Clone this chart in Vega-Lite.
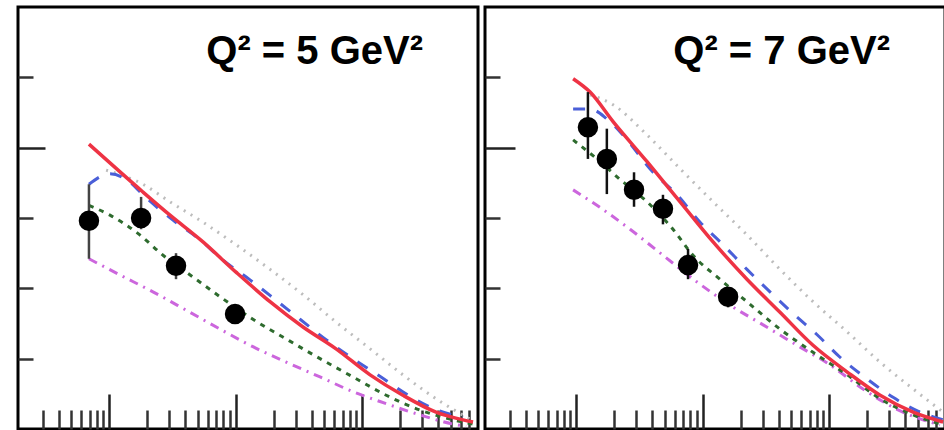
{
  "$schema": "https://vega.github.io/schema/vega-lite/v6.json",
  "padding": {"left": 15, "top": 5, "right": 9, "bottom": 3},
  "spacing": 0,
  "background": "white",
  "config": {"view": {"stroke": "black", "strokeWidth": 3}},
  "datasets": {
    "curves": [
      {"p":"L","m":"gray","x":9.47e-5,"y":3.68},{"p":"L","m":"gray","x":1.85e-4,"y":3.48},{"p":"L","m":"gray","x":3.03e-4,"y":3.23},{"p":"L","m":"gray","x":5.52e-4,"y":2.94},{"p":"L","m":"gray","x":1.007e-3,"y":2.62},{"p":"L","m":"gray","x":1.87e-3,"y":2.27},{"p":"L","m":"gray","x":3.41e-3,"y":1.91},{"p":"L","m":"gray","x":6.22e-3,"y":1.52},{"p":"L","m":"gray","x":1.156e-2,"y":1.14},{"p":"L","m":"gray","x":2.10e-2,"y":0.77},{"p":"L","m":"gray","x":3.84e-2,"y":0.43},{"p":"L","m":"gray","x":7.13e-2,"y":0.14},
      {"p":"L","m":"magenta","x":6.93e-5,"y":2.42},{"p":"L","m":"magenta","x":1.22e-4,"y":2.19},{"p":"L","m":"magenta","x":2.22e-4,"y":1.95},{"p":"L","m":"magenta","x":4.06e-4,"y":1.69},{"p":"L","m":"magenta","x":7.54e-4,"y":1.42},{"p":"L","m":"magenta","x":1.37e-3,"y":1.17},{"p":"L","m":"magenta","x":2.51e-3,"y":0.95},{"p":"L","m":"magenta","x":4.65e-3,"y":0.74},{"p":"L","m":"magenta","x":8.47e-3,"y":0.53},{"p":"L","m":"magenta","x":1.55e-2,"y":0.36},{"p":"L","m":"magenta","x":2.87e-2,"y":0.20},{"p":"L","m":"magenta","x":5.24e-2,"y":0.07},{"p":"L","m":"magenta","x":6.64e-2,"y":0.04},
      {"p":"L","m":"green","x":6.93e-5,"y":3.18},{"p":"L","m":"green","x":1.016e-4,"y":3.04},{"p":"L","m":"green","x":1.75e-4,"y":2.76},{"p":"L","m":"green","x":2.67e-4,"y":2.47},{"p":"L","m":"green","x":4.37e-4,"y":2.19},{"p":"L","m":"green","x":7.54e-4,"y":1.88},{"p":"L","m":"green","x":1.37e-3,"y":1.56},{"p":"L","m":"green","x":2.51e-3,"y":1.28},{"p":"L","m":"green","x":4.65e-3,"y":1.00},{"p":"L","m":"green","x":8.47e-3,"y":0.74},{"p":"L","m":"green","x":1.55e-2,"y":0.48},{"p":"L","m":"green","x":2.87e-2,"y":0.27},{"p":"L","m":"green","x":5.24e-2,"y":0.13},{"p":"L","m":"green","x":7.53e-2,"y":0.07},
      {"p":"L","m":"blue","x":6.93e-5,"y":3.48},{"p":"L","m":"blue","x":1.016e-4,"y":3.63},{"p":"L","m":"blue","x":1.46e-4,"y":3.51},{"p":"L","m":"blue","x":1.85e-4,"y":3.33},{"p":"L","m":"blue","x":3.20e-4,"y":2.97},{"p":"L","m":"blue","x":5.24e-4,"y":2.69},{"p":"L","m":"blue","x":7.96e-4,"y":2.40},{"p":"L","m":"blue","x":1.30e-3,"y":2.12},{"p":"L","m":"blue","x":2.09e-3,"y":1.83},{"p":"L","m":"blue","x":3.23e-3,"y":1.56},{"p":"L","m":"blue","x":5.19e-3,"y":1.27},{"p":"L","m":"blue","x":8.47e-3,"y":1.00},{"p":"L","m":"blue","x":1.41e-2,"y":0.74},{"p":"L","m":"blue","x":2.22e-2,"y":0.50},{"p":"L","m":"blue","x":3.77e-2,"y":0.28},{"p":"L","m":"blue","x":6.28e-2,"y":0.17},
      {"p":"L","m":"red","x":6.93e-5,"y":4.05},{"p":"L","m":"red","x":1.85e-4,"y":3.37},{"p":"L","m":"red","x":3.03e-4,"y":3.04},{"p":"L","m":"red","x":5.52e-4,"y":2.66},{"p":"L","m":"red","x":1.007e-3,"y":2.23},{"p":"L","m":"red","x":1.87e-3,"y":1.81},{"p":"L","m":"red","x":3.41e-3,"y":1.45},{"p":"L","m":"red","x":6.22e-3,"y":1.14},{"p":"L","m":"red","x":1.156e-2,"y":0.77},{"p":"L","m":"red","x":2.10e-2,"y":0.48},{"p":"L","m":"red","x":3.84e-2,"y":0.24},{"p":"L","m":"red","x":6.28e-2,"y":0.13},{"p":"L","m":"red","x":7.53e-2,"y":0.10},
      {"p":"R","m":"gray","x":1.29e-4,"y":4.75},{"p":"R","m":"gray","x":1.96e-4,"y":4.61},{"p":"R","m":"gray","x":3.64e-4,"y":4.18},{"p":"R","m":"gray","x":6.64e-4,"y":3.70},{"p":"R","m":"gray","x":1.21e-3,"y":3.23},{"p":"R","m":"gray","x":2.24e-3,"y":2.76},{"p":"R","m":"gray","x":4.09e-3,"y":2.27},{"p":"R","m":"gray","x":7.46e-3,"y":1.81},{"p":"R","m":"gray","x":1.39e-2,"y":1.38},{"p":"R","m":"gray","x":2.53e-2,"y":0.95},{"p":"R","m":"gray","x":4.61e-2,"y":0.57},{"p":"R","m":"gray","x":7.96e-2,"y":0.24},
      {"p":"R","m":"magenta","x":9.47e-5,"y":3.40},{"p":"R","m":"magenta","x":1.46e-4,"y":3.18},{"p":"R","m":"magenta","x":2.67e-4,"y":2.84},{"p":"R","m":"magenta","x":4.86e-4,"y":2.47},{"p":"R","m":"magenta","x":9.04e-4,"y":2.09},{"p":"R","m":"magenta","x":1.65e-3,"y":1.76},{"p":"R","m":"magenta","x":3.01e-3,"y":1.48},{"p":"R","m":"magenta","x":5.57e-3,"y":1.19},{"p":"R","m":"magenta","x":1.02e-2,"y":0.91},{"p":"R","m":"magenta","x":1.85e-2,"y":0.57},{"p":"R","m":"magenta","x":3.44e-2,"y":0.28},{"p":"R","m":"magenta","x":5.52e-2,"y":0.13},{"p":"R","m":"magenta","x":7.53e-2,"y":0.06},
      {"p":"R","m":"green","x":9.47e-5,"y":4.11},{"p":"R","m":"green","x":1.46e-4,"y":3.84},{"p":"R","m":"green","x":2.22e-4,"y":3.55},{"p":"R","m":"green","x":3.64e-4,"y":3.23},{"p":"R","m":"green","x":5.83e-4,"y":2.84},{"p":"R","m":"green","x":8.39e-4,"y":2.47},{"p":"R","m":"green","x":1.37e-3,"y":2.13},{"p":"R","m":"green","x":2.24e-3,"y":1.81},{"p":"R","m":"green","x":4.09e-3,"y":1.42},{"p":"R","m":"green","x":7.46e-3,"y":1.09},{"p":"R","m":"green","x":1.39e-2,"y":0.77},{"p":"R","m":"green","x":2.53e-2,"y":0.43},{"p":"R","m":"green","x":4.61e-2,"y":0.20},{"p":"R","m":"green","x":7.53e-2,"y":0.07},
      {"p":"R","m":"blue","x":9.47e-5,"y":4.55},{"p":"R","m":"blue","x":1.29e-4,"y":4.55},{"p":"R","m":"blue","x":1.75e-4,"y":4.41},{"p":"R","m":"blue","x":2.35e-4,"y":4.18},{"p":"R","m":"blue","x":4.06e-4,"y":3.65},{"p":"R","m":"blue","x":6.28e-4,"y":3.33},{"p":"R","m":"blue","x":9.55e-4,"y":2.94},{"p":"R","m":"blue","x":1.45e-3,"y":2.62},{"p":"R","m":"blue","x":2.24e-3,"y":2.27},{"p":"R","m":"blue","x":3.41e-3,"y":1.95},{"p":"R","m":"blue","x":5.19e-3,"y":1.64},{"p":"R","m":"blue","x":8.04e-3,"y":1.34},{"p":"R","m":"blue","x":1.22e-2,"y":1.02},{"p":"R","m":"blue","x":2.00e-2,"y":0.71},{"p":"R","m":"blue","x":3.20e-2,"y":0.45},{"p":"R","m":"blue","x":5.24e-2,"y":0.24},{"p":"R","m":"blue","x":7.96e-2,"y":0.13},
      {"p":"R","m":"red","x":9.47e-5,"y":4.98},{"p":"R","m":"red","x":1.29e-4,"y":4.79},{"p":"R","m":"red","x":1.96e-4,"y":4.37},{"p":"R","m":"red","x":3.64e-4,"y":3.80},{"p":"R","m":"red","x":6.64e-4,"y":3.23},{"p":"R","m":"red","x":1.21e-3,"y":2.66},{"p":"R","m":"red","x":2.24e-3,"y":2.13},{"p":"R","m":"red","x":4.09e-3,"y":1.66},{"p":"R","m":"red","x":7.46e-3,"y":1.19},{"p":"R","m":"red","x":1.39e-2,"y":0.81},{"p":"R","m":"red","x":2.53e-2,"y":0.48},{"p":"R","m":"red","x":4.61e-2,"y":0.24},{"p":"R","m":"red","x":7.96e-2,"y":0.10}
    ],
    "points": [
      {"p":"L","x":6.93e-5,"y":2.96,"lo":2.42,"hi":3.48},{"p":"L","x":1.79e-4,"y":3.00,"lo":2.84,"hi":3.30},{"p":"L","x":3.38e-4,"y":2.32,"lo":2.13,"hi":2.50},{"p":"L","x":9.9e-4,"y":1.635,"lo":1.52,"hi":1.75},
      {"p":"R","x":1.24e-4,"y":4.29,"lo":3.84,"hi":4.79},{"p":"R","x":1.75e-4,"y":3.84,"lo":3.34,"hi":4.27},{"p":"R","x":2.87e-4,"y":3.40,"lo":3.16,"hi":3.65},{"p":"R","x":4.86e-4,"y":3.13,"lo":2.91,"hi":3.33},{"p":"R","x":7.67e-4,"y":2.33,"lo":2.13,"hi":2.56},{"p":"R","x":1.59e-3,"y":1.88,"lo":1.73,"hi":1.99}
    ],
    "labels": [
      {"p":"L","x":0.0303,"y":5.19,"t":"Q² =  5 GeV²"},
      {"p":"R","x":0.0303,"y":5.19,"t":"Q² =  7 GeV²"}
    ]
  },
  "hconcat": [
    {
      "width": 460, "height": 422,
      "resolve": {"axis": {"x": "independent", "y": "independent"}},
      "layer": [
        {
          "data": {"name": "curves"},
          "transform": [{"filter": "datum.p == 'L' && datum.m != 'red'"}],
          "mark": {"type": "line", "strokeWidth": 3, "interpolate": "monotone"},
          "encoding": {
            "x": {"field": "x", "type": "quantitative", "scale": {"type": "log", "domain": [1.905e-5, 0.0824], "nice": false},
              "axis": {"orient": "bottom", "values": [3e-5,4e-5,5e-5,6e-5,7e-5,8e-5,9e-5,2e-4,3e-4,4e-4,5e-4,6e-4,7e-4,8e-4,9e-4,2e-3,3e-3,4e-3,5e-3,6e-3,7e-3,8e-3,9e-3,2e-2,3e-2,4e-2,5e-2,6e-2,7e-2], "tickSize": -19, "tickWidth": 2.5, "tickColor": "#333", "domain": false, "labels": false, "title": null, "grid": false}},
            "y": {"field": "y", "type": "quantitative", "scale": {"domain": [0, 6], "nice": false},
              "axis": {"orient": "left", "values": [1,2,3,5], "tickSize": -15, "tickWidth": 2.5, "tickColor": "#333", "domain": false, "labels": false, "title": null, "grid": false}},
            "color": {"field": "m", "type": "nominal", "scale": {"domain": ["gray","magenta","green","blue"], "range": ["#bdbdbd","#cc66dd","#2e6b2e","#4a5fd8"]}, "legend": null},
            "strokeDash": {"field": "m", "type": "nominal", "scale": {"domain": ["gray","magenta","green","blue"], "range": [[2,6],[9,6,2,6],[5,6],[12,12]]}, "legend": null}
          }
        },
        {
          "data": {"name": "curves"},
          "transform": [{"filter": "datum.p == 'L' && datum.m == 'red'"}],
          "mark": {"type": "line", "strokeWidth": 3.5, "color": "#ee3344", "interpolate": "monotone"},
          "encoding": {
            "x": {"field": "x", "type": "quantitative", "scale": {"type": "log", "domain": [1.905e-5, 0.0824], "nice": false},
              "axis": {"orient": "bottom", "values": [1e-4,1e-3,1e-2], "tickSize": -35, "tickWidth": 2.5, "tickColor": "#222", "domain": false, "labels": false, "title": null, "grid": false}},
            "y": {"field": "y", "type": "quantitative", "scale": {"domain": [0, 6], "nice": false},
              "axis": {"orient": "left", "values": [4], "tickSize": -27, "tickWidth": 2.5, "tickColor": "#222", "domain": false, "labels": false, "title": null, "grid": false}}
          }
        },
        {
          "data": {"name": "points"},
          "transform": [{"filter": "datum.p == 'L'"}],
          "mark": {"type": "rule", "strokeWidth": 2.5, "color": "#444"},
          "encoding": {
            "x": {"field": "x", "type": "quantitative", "axis": null},
            "y": {"field": "lo", "type": "quantitative", "axis": null},
            "y2": {"field": "hi"}
          }
        },
        {
          "data": {"name": "points"},
          "transform": [{"filter": "datum.p == 'L'"}],
          "mark": {"type": "point", "shape": "circle", "filled": true, "size": 420, "color": "black", "opacity": 1},
          "encoding": {
            "x": {"field": "x", "type": "quantitative", "axis": null},
            "y": {"field": "y", "type": "quantitative", "axis": null}
          }
        },
        {
          "data": {"name": "labels"},
          "transform": [{"filter": "datum.p == 'L'"}],
          "mark": {"type": "text", "align": "right", "baseline": "alphabetic", "font": "Liberation Sans", "fontWeight": "bold", "fontSize": 40, "color": "black"},
          "encoding": {
            "x": {"field": "x", "type": "quantitative", "axis": null},
            "y": {"field": "y", "type": "quantitative", "axis": null},
            "text": {"field": "t"}
          }
        }
      ]
    },
    {
      "width": 460, "height": 422,
      "resolve": {"axis": {"x": "independent", "y": "independent"}},
      "layer": [
        {
          "data": {"name": "curves"},
          "transform": [{"filter": "datum.p == 'R' && datum.m != 'red'"}],
          "mark": {"type": "line", "strokeWidth": 3, "interpolate": "monotone"},
          "encoding": {
            "x": {"field": "x", "type": "quantitative", "scale": {"type": "log", "domain": [1.905e-5, 0.0824], "nice": false},
              "axis": {"orient": "bottom", "values": [3e-5,4e-5,5e-5,6e-5,7e-5,8e-5,9e-5,2e-4,3e-4,4e-4,5e-4,6e-4,7e-4,8e-4,9e-4,2e-3,3e-3,4e-3,5e-3,6e-3,7e-3,8e-3,9e-3,2e-2,3e-2,4e-2,5e-2,6e-2,7e-2], "tickSize": -19, "tickWidth": 2.5, "tickColor": "#333", "domain": false, "labels": false, "title": null, "grid": false}},
            "y": {"field": "y", "type": "quantitative", "scale": {"domain": [0, 6], "nice": false},
              "axis": {"orient": "left", "values": [1,2,3,5], "tickSize": -15, "tickWidth": 2.5, "tickColor": "#333", "domain": false, "labels": false, "title": null, "grid": false}},
            "color": {"field": "m", "type": "nominal", "scale": {"domain": ["gray","magenta","green","blue"], "range": ["#bdbdbd","#cc66dd","#2e6b2e","#4a5fd8"]}, "legend": null},
            "strokeDash": {"field": "m", "type": "nominal", "scale": {"domain": ["gray","magenta","green","blue"], "range": [[2,6],[9,6,2,6],[5,6],[12,12]]}, "legend": null}
          }
        },
        {
          "data": {"name": "curves"},
          "transform": [{"filter": "datum.p == 'R' && datum.m == 'red'"}],
          "mark": {"type": "line", "strokeWidth": 3.5, "color": "#ee3344", "interpolate": "monotone"},
          "encoding": {
            "x": {"field": "x", "type": "quantitative", "scale": {"type": "log", "domain": [1.905e-5, 0.0824], "nice": false},
              "axis": {"orient": "bottom", "values": [1e-4,1e-3,1e-2], "tickSize": -35, "tickWidth": 2.5, "tickColor": "#222", "domain": false, "labels": false, "title": null, "grid": false}},
            "y": {"field": "y", "type": "quantitative", "scale": {"domain": [0, 6], "nice": false},
              "axis": {"orient": "left", "values": [4], "tickSize": -30, "tickWidth": 2.5, "tickColor": "#222", "domain": false, "labels": false, "title": null, "grid": false}}
          }
        },
        {
          "data": {"name": "points"},
          "transform": [{"filter": "datum.p == 'R'"}],
          "mark": {"type": "rule", "strokeWidth": 2.5, "color": "#111"},
          "encoding": {
            "x": {"field": "x", "type": "quantitative", "axis": null},
            "y": {"field": "lo", "type": "quantitative", "axis": null},
            "y2": {"field": "hi"}
          }
        },
        {
          "data": {"name": "points"},
          "transform": [{"filter": "datum.p == 'R'"}],
          "mark": {"type": "point", "shape": "circle", "filled": true, "size": 420, "color": "black", "opacity": 1},
          "encoding": {
            "x": {"field": "x", "type": "quantitative", "axis": null},
            "y": {"field": "y", "type": "quantitative", "axis": null}
          }
        },
        {
          "data": {"name": "labels"},
          "transform": [{"filter": "datum.p == 'R'"}],
          "mark": {"type": "text", "align": "right", "baseline": "alphabetic", "font": "Liberation Sans", "fontWeight": "bold", "fontSize": 40, "color": "black"},
          "encoding": {
            "x": {"field": "x", "type": "quantitative", "axis": null},
            "y": {"field": "y", "type": "quantitative", "axis": null},
            "text": {"field": "t"}
          }
        }
      ]
    }
  ]
}
